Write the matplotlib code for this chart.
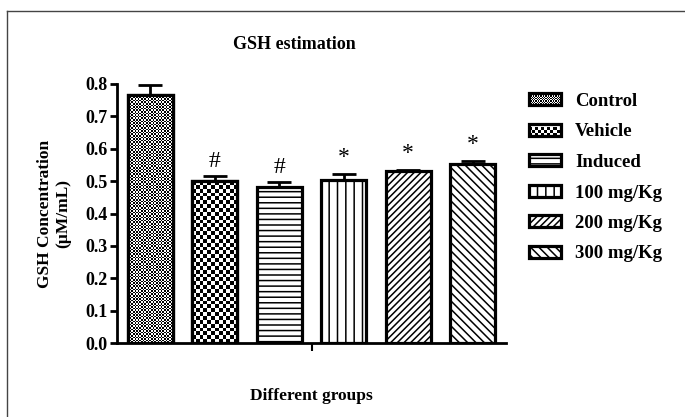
import numpy as np
import matplotlib
matplotlib.use("Agg")
import matplotlib.pyplot as plt
from matplotlib.patches import Rectangle
from matplotlib.lines import Line2D
from matplotlib.legend_handler import HandlerBase

groups = ["Control", "Vehicle", "Induced", "100 mg/Kg", "200 mg/Kg", "300 mg/Kg"]
means = [0.765, 0.500, 0.482, 0.505, 0.531, 0.552]
sems = [0.033, 0.016, 0.016, 0.017, 0.004, 0.010]
marks = ["", "#", "#", "*", "*", "*"]
yticks = [0.0, 0.1, 0.2, 0.3, 0.4, 0.5, 0.6, 0.7, 0.8]

plt.rcParams['font.family'] = ['Liberation Serif', 'DejaVu Serif']
plt.rcParams['font.weight'] = 'bold'
plt.rcParams['hatch.linewidth'] = 1.1

DPI = 100
fig = plt.figure(figsize=(6.85, 4.17), dpi=DPI)
ax = fig.add_axes([117/685, 1-343/417, (506-117)/685, (343-84)/417])

x = np.arange(len(groups))
width = 0.70
hatches = [None, None, '---', '||', '/////', '\\\\\\\\']
checker_px = [1.6, 3.9, None, None, None, None]

ax.set_xlim(-0.52, len(groups) - 1 + 0.52)
ax.set_ylim(0, 0.8)

# error bars (upper only), drawn below bars
ax.errorbar(x, means, yerr=[np.zeros(len(sems)), sems], fmt='none', ecolor='black',
            elinewidth=2.0, capsize=8.5, capthick=2.0, zorder=1, clip_on=False)

bars = ax.bar(x, means, width=width, color='white', edgecolor='black', linewidth=2.3,
              zorder=2)
for b, h in zip(bars, hatches):
    if h:
        b.set_hatch(h)

fig.canvas.draw()
# checker patterns for Control and Vehicle
for b, cpx in zip(bars, checker_px):
    if cpx is None:
        continue
    x0, y0 = b.get_x(), b.get_y()
    w, hgt = b.get_width(), b.get_height()
    p0 = ax.transData.transform((x0, y0))
    p1 = ax.transData.transform((x0 + w, y0 + hgt))
    nx = max(2, int(round(abs(p1[0] - p0[0]) / cpx)))
    ny = max(2, int(round(abs(p1[1] - p0[1]) / cpx)))
    arr = (np.add.outer(np.arange(ny), np.arange(nx)) % 2).astype(float)
    im = ax.imshow(arr, cmap='gray', extent=(x0, x0 + w, y0, y0 + hgt), aspect='auto',
                   interpolation='nearest', zorder=2.5, vmin=0, vmax=1)
    im.set_clip_path(b)
    ax.add_patch(Rectangle((x0, y0), w, hgt, fill=False, edgecolor='black',
                           linewidth=2.3, zorder=3))

ax.set_xlim(-0.52, len(groups) - 1 + 0.52)
ax.set_ylim(0, 0.8)

for xi, m, s, mk in zip(x, means, sems, marks):
    if mk == '#':
        ax.annotate(mk, (xi, m + s), xytext=(0, 3), textcoords='offset points',
                    ha='center', va='bottom', fontsize=17, fontweight='normal')
    elif mk:
        ax.annotate(mk, (xi, m + s), xytext=(0, 4), textcoords='offset points',
                    ha='center', va='bottom', fontsize=17, fontweight='normal')

for sp in ['top', 'right']:
    ax.spines[sp].set_visible(False)
for sp in ['left', 'bottom']:
    ax.spines[sp].set_linewidth(2.0)

ax.set_yticks(yticks)
ax.set_yticklabels([f"{v:.1f}" for v in yticks])
ax.tick_params(axis='y', direction='out', length=5, width=2.0, labelsize=13, pad=2)
ax.set_xticks([(len(groups) - 1) / 2])
ax.set_xticklabels([""])
ax.tick_params(axis='x', direction='out', length=6, width=1.5)

ax.set_title("GSH estimation", fontsize=13, fontweight='bold', pad=25, x=0.455)
ax.set_ylabel("GSH Concentration\n(\u00b5M/mL)", fontsize=12.5, fontweight='bold',
              labelpad=10, linespacing=1.2)
ax.set_xlabel("Different groups", fontsize=12.5, fontweight='bold', labelpad=23)


class HandlerChecker(HandlerBase):
    def __init__(self, cell):
        super().__init__()
        self.cell = cell

    def create_artists(self, legend, orig_handle, xdescent, ydescent, width, height,
                       fontsize, trans):
        arts = [Rectangle((-xdescent, -ydescent), width, height, facecolor='white',
                          edgecolor='none', transform=trans)]
        c = self.cell
        nx = int(width / c)
        ny = int(height / c)
        for i in range(ny):
            for j in range(nx):
                if (i + j) % 2 == 0:
                    arts.append(Rectangle((-xdescent + j * c, -ydescent + i * c), c, c,
                                          facecolor='black', edgecolor='none',
                                          transform=trans))
        arts.append(Rectangle((-xdescent, -ydescent), width, height, fill=False,
                              edgecolor='black', linewidth=2.3, transform=trans))
        return arts


handles = []
handler_map = {}
for i, g in enumerate(groups):
    r = Rectangle((0, 0), 1, 1, facecolor='white', edgecolor='black', linewidth=2.3,
                  hatch=hatches[i])
    handles.append(r)
    if checker_px[i] is not None:
        handler_map[r] = HandlerChecker(0.9 if i == 0 else 2.2)

leg = fig.legend(handles, groups, handler_map=handler_map, loc='upper left',
                 bbox_to_anchor=(529/685, 1 - 93/417), frameon=False, fontsize=13.5,
                 handlelength=1.7, handleheight=0.6, handletextpad=0.75,
                 labelspacing=0.72, borderpad=0, borderaxespad=0)

# outer frame (left and top)
fig.add_artist(Line2D([7/685, 7/685], [0, 1 - 11/417], color='#444444', linewidth=1.0,
                      transform=fig.transFigure))
fig.add_artist(Line2D([7/685, 1], [1 - 11/417, 1 - 11/417], color='#444444',
                      linewidth=1.0, transform=fig.transFigure))

fig.savefig("out.png", dpi=DPI)
